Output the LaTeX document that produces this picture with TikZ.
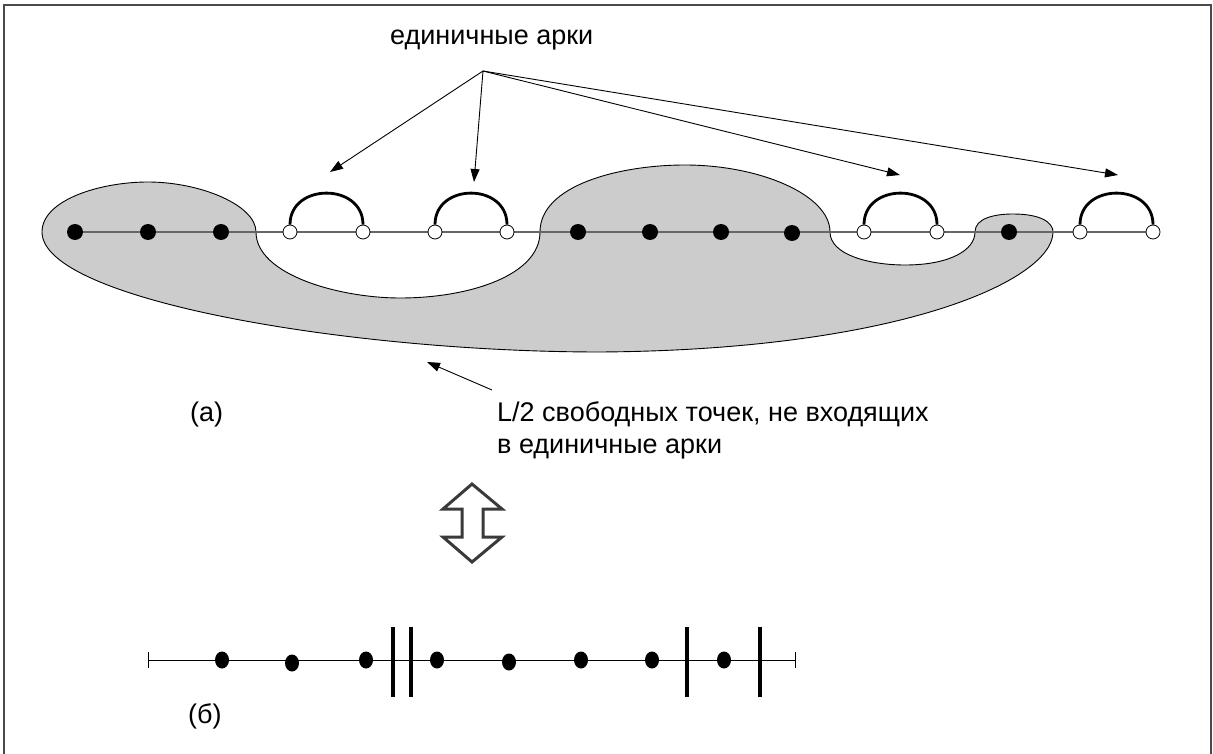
\documentclass[tikz,border=0pt]{standalone}
\usepackage{fontspec}
\setmainfont{Liberation Sans}
\usetikzlibrary{arrows.meta,shapes.geometric}
\definecolor{blobgray}{HTML}{CCCCCC}
\definecolor{linegray}{HTML}{666666}
\definecolor{framegray}{HTML}{4A4A4A}
\definecolor{dblgray}{HTML}{3A3A3A}
\begin{document}
\begin{tikzpicture}[x=1pt,y=-1pt,
  fdot/.style={circle,fill=black,inner sep=0pt,minimum size=16pt},
  bdot/.style={ellipse,fill=black,inner sep=0pt,minimum width=14pt,minimum height=17pt},
  odot/.style={circle,draw=black,fill=white,inner sep=0pt,minimum size=14pt,line width=0.8pt},
  arcline/.style={line width=2.8pt},
  ptr/.style={-{Triangle[length=13pt,width=9pt]},line width=0.9pt},
  lbl/.style={font=\fontsize{27}{32}\selectfont,inner sep=0pt},
  bar/.style={line width=4pt},
  tick/.style={line width=1pt},
]
\useasboundingbox (0,0) rectangle (1213,754);
% frame
\draw[framegray,line width=2pt] (4,754) -- (4,5) -- (1211,5) -- (1211,754);

% gray region
\draw[fill=blobgray,line width=0.9pt]
  (42,232) .. controls (42,200) and (100,182) .. (148,182)
  .. controls (200,182) and (256,205) .. (256,232)
  .. controls (256,275) and (340,298) .. (400,298)
  .. controls (470,298) and (540,275) .. (540,232)
  .. controls (540,185) and (620,165) .. (685,165)
  .. controls (760,165) and (830,195) .. (830,232)
  .. controls (830,255) and (870,265) .. (905,265)
  .. controls (950,265) and (975,250) .. (975,232)
  .. controls (975,218) and (995,214) .. (1013,214)
  .. controls (1040,214) and (1053,222) .. (1053,232)
  .. controls (1053,280) and (900,350) .. (600,352)
  .. controls (350,352) and (42,300) .. (42,232) -- cycle;

% points
\coordinate (lineL) at (75,232);
\coordinate (lineR) at (1153,232);
\draw[linegray,line width=2pt] (lineL) -- (lineR);
\node[fdot] (d1) at (75,232) {};
\node[fdot] (d2) at (148,232) {};
\node[fdot] (d3) at (221,232) {};
\node[fdot] (d4) at (578,232) {};
\node[fdot] (d5) at (650,232) {};
\node[fdot] (d6) at (721,232) {};
\node[fdot] (d7) at (792,233) {};
\node[fdot] (d8) at (1009,232) {};
\node[odot] (o1) at (290,232) {};
\node[odot] (o2) at (363,232) {};
\node[odot] (o3) at (435,232) {};
\node[odot] (o4) at (507,232) {};
\node[odot] (o5) at (864,232) {};
\node[odot] (o6) at (937,232) {};
\node[odot] (o7) at (1080,232) {};
\node[odot] (o8) at (1153,232) {};
\foreach \a/\b in {o1/o2,o3/o4,o5/o6,o7/o8}
  \draw[arcline] (\a.north) .. controls +(0,-42) and +(0,-42) .. (\b.north);

% label arrows
\node[lbl,anchor=base west] (top) at (390,45) {единичные арки};
\coordinate (apex) at (483,71);
\coordinate (t1) at (330,172);
\coordinate (t2) at (474,182);
\coordinate (t3) at (900,175);
\coordinate (t4) at (1118,175);
\foreach \t in {t1,t2,t3,t4} \draw[ptr] (apex) -- (\t);

\node[lbl,anchor=base west] (a) at (190,421) {(а)};
\node[lbl,anchor=base west,align=left] (free) at (497,453) {L/2 свободных точек, не входящих\\в единичные арки};
\coordinate (ftail) at (492,390);
\coordinate (fhead) at (427,362);
\draw[ptr] (ftail) -- (fhead);

% double hollow arrow
\draw[dblgray,fill=white,line width=3pt,line join=miter]
  (472,484) -- (502,509) -- (483,509) -- (483,537) -- (502,537) -- (472,562)
  -- (443,537) -- (462,537) -- (462,509) -- (443,509) -- cycle;

% bottom line
\coordinate (bL) at (148,660);
\coordinate (bR) at (795,660);
\draw[tick] (bL) -- (bR);
\draw[tick] ([yshift=-8pt]bL) -- ([yshift=8pt]bL);
\draw[tick] ([yshift=-8pt]bR) -- ([yshift=8pt]bR);
\node[bdot] (b1) at (222,660) {};
\node[bdot] (b2) at (292,663) {};
\node[bdot] (b3) at (366,660) {};
\node[bdot] (b4) at (437,660) {};
\node[bdot] (b5) at (509,662) {};
\node[bdot] (b6) at (581,660) {};
\node[bdot] (b7) at (652,660) {};
\node[bdot] (b8) at (724,660) {};
\foreach \x [count=\i] in {393,411,687,760}{
  \coordinate (bt\i) at (\x,627);
  \coordinate (bb\i) at (\x,697);
  \draw[bar] (bt\i) -- (bb\i);
}
\node[lbl,anchor=base west] (b) at (188,723) {(б)};
\end{tikzpicture}
\end{document}
